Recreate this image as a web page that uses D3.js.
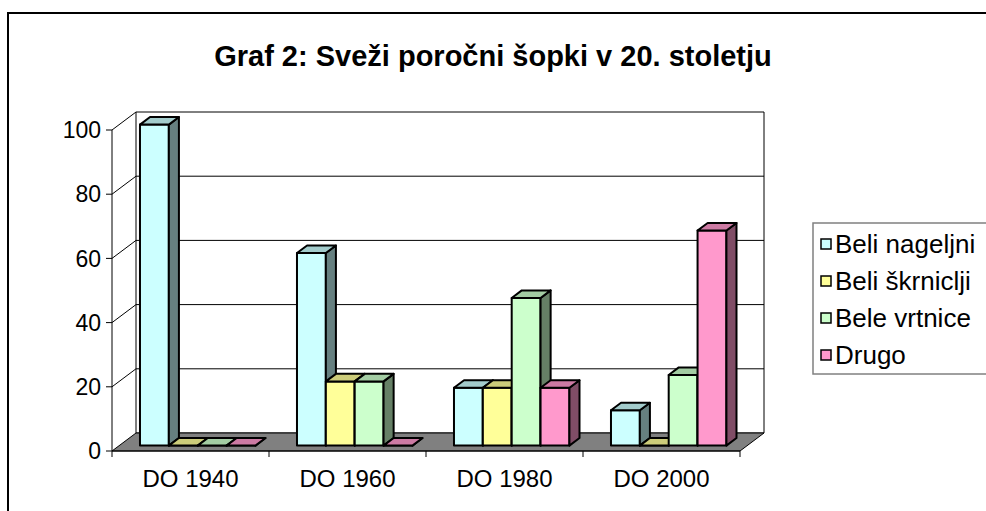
<!DOCTYPE html>
<html>
<head>
<meta charset="utf-8">
<script src="https://cdn.jsdelivr.net/npm/d3@7"></script>
<style>
  html, body { margin: 0; padding: 0; background: #fff; }
  svg { display: block; font-family: Arial, "Liberation Sans", sans-serif; }
</style>
</head>
<body>
<svg id="chart" width="986" height="511"></svg>
<script>
// podatki
const categories = ['DO 1940', 'DO 1960', 'DO 1980', 'DO 2000'];
const series = ['Beli nageljni', 'Beli škrniclji', 'Bele vrtnice', 'Drugo'];
const colors = ['#CCFFFF', '#FFFF99', '#CCFFCC', '#FF99CC'];
const values = [
    [100, 60, 18, 11],  // Beli nageljni
    [0, 20, 18, 0],     // Beli škrniclji
    [0, 20, 46, 22],    // Bele vrtnice
    [0, 0, 18, 67]      // Drugo
];
const yTicks = [0, 20, 40, 60, 80, 100];
const title = 'Graf 2: Sveži poročni šopki v 20. stoletju';

const svg = d3.select('#chart');

// okvir
svg.append('rect')
    .attr('x', 8).attr('y', 13)
    .attr('width', 1000).attr('height', 600)
    .attr('fill', '#fff')
    .attr('stroke', '#000')
    .attr('stroke-width', 2);

svg.append('text')
    .attr('x', 493).attr('y', 66)
    .attr('text-anchor', 'middle')
    .style('font-size', '29px')
    .style('font-weight', 'bold')
    .text(title);

// lestvice
const x = d3.scaleBand().domain(categories).range([112, 740]);
const xs = d3.scaleBand().domain(series).range([0, x.bandwidth()]).paddingInner(0).paddingOuter(0.72);
const y = d3.scaleLinear().domain([0, 100]).range([451, 130]);

// globina 3D
const DX = 24, DY = -18;
const p = (px, py, z) => [px + DX * z, py + DY * z];
const poly = pts => 'M' + pts.map(q => q.join(',')).join('L') + 'Z';

const xMin = x.range()[0], xMax = x.range()[1];

// zadnja stena
svg.append('path')
    .attr('d', poly([p(xMin, y(0), 1), p(xMin, y(100), 1), p(xMax, y(100), 1), p(xMax, y(0), 1)]))
    .attr('fill', '#fff')
    .attr('stroke', '#000')
    .attr('stroke-width', 1);

// mreža
yTicks.filter(t => t > 0 && t < 100).forEach(t => {
    svg.append('path')
        .attr('d', 'M' + p(xMin, y(t), 0).join(',') + 'L' + p(xMin, y(t), 1).join(',') + 'L' + p(xMax, y(t), 1).join(','))
        .attr('fill', 'none')
        .attr('stroke', '#000')
        .attr('stroke-width', 1);
});
svg.append('path')
    .attr('d', 'M' + p(xMin, y(100), 0).join(',') + 'L' + p(xMin, y(100), 1).join(','))
    .attr('stroke', '#000').attr('fill', 'none');

// tla
svg.append('path')
    .attr('d', poly([p(xMin, y(0), 0), p(xMin, y(0), 1), p(xMax, y(0), 1), p(xMax, y(0), 0)]))
    .attr('fill', '#808080')
    .attr('stroke', '#000')
    .attr('stroke-width', 1);

// os y
svg.append('line')
    .attr('x1', xMin).attr('x2', xMin)
    .attr('y1', y(100)).attr('y2', y(0) + 6)
    .attr('stroke', '#000');

svg.selectAll('.ytick')
    .data(yTicks)
    .enter()
    .append('line')
    .attr('x1', xMin - 6).attr('x2', xMin)
    .attr('y1', d => y(d)).attr('y2', d => y(d))
    .attr('stroke', '#000');

svg.selectAll('.ylab')
    .data(yTicks)
    .enter()
    .append('text')
    .attr('x', xMin - 11)
    .attr('y', d => y(d))
    .attr('dy', '0.36em')
    .attr('text-anchor', 'end')
    .style('font-size', '23px')
    .text(d => d);

// os x
svg.append('line')
    .attr('x1', xMin).attr('x2', xMax)
    .attr('y1', y(0)).attr('y2', y(0))
    .attr('stroke', '#000');

svg.selectAll('.xtick')
    .data(categories.slice(1).map(c => x(c)).concat([xMax]))
    .enter()
    .append('line')
    .attr('x1', d => d).attr('x2', d => d)
    .attr('y1', y(0)).attr('y2', y(0) + 6)
    .attr('stroke', '#000');

svg.selectAll('.xlab')
    .data(categories)
    .enter()
    .append('text')
    .attr('x', d => x(d) + x.bandwidth() / 2)
    .attr('y', 487)
    .attr('text-anchor', 'middle')
    .style('font-size', '24px')
    .text(d => d);

// stolpci
const shade = (c, k) => {
    const col = d3.rgb(c);
    return d3.rgb(col.r * k, col.g * k, col.b * k).formatHex();
};
const Z0 = 0.3, Z1 = 0.72;

categories.forEach((cat, ci) => {
    series.forEach((s, si) => {
        const v = values[si][ci];
        const x0 = x(cat) + xs(s), x1 = x0 + xs.bandwidth();
        const yb = y(0), yt = y(v);
        const g = svg.append('g')
            .attr('stroke', '#000')
            .attr('stroke-width', 2)
            .attr('stroke-linejoin', 'round');
        // sprednja ploskev
        g.append('path')
            .attr('d', poly([p(x0, yb, Z0), p(x0, yt, Z0), p(x1, yt, Z0), p(x1, yb, Z0)]))
            .attr('fill', colors[si]);
        // stranska ploskev
        g.append('path')
            .attr('d', poly([p(x1, yb, Z0), p(x1, yt, Z0), p(x1, yt, Z1), p(x1, yb, Z1)]))
            .attr('fill', shade(colors[si], 0.5));
        // zgornja ploskev
        g.append('path')
            .attr('d', poly([p(x0, yt, Z0), p(x0, yt, Z1), p(x1, yt, Z1), p(x1, yt, Z0)]))
            .attr('fill', shade(colors[si], 0.8));
    });
});

// legenda
const legend = svg.append('g');
legend.append('rect')
    .attr('x', 813).attr('y', 223)
    .attr('width', 200).attr('height', 151)
    .attr('fill', '#fff')
    .attr('stroke', '#808080')
    .attr('stroke-width', 1.5);

const items = legend.selectAll('.item')
    .data(series)
    .enter()
    .append('g')
    .attr('transform', (d, i) => `translate(821,${244 + i * 37})`);

items.append('rect')
    .attr('x', 0).attr('y', -5)
    .attr('width', 10).attr('height', 10)
    .attr('fill', (d, i) => colors[i])
    .attr('stroke', '#000')
    .attr('stroke-width', 1.5);

items.append('text')
    .attr('x', 14)
    .attr('dy', '0.36em')
    .style('font-size', '26px')
    .text(d => d);
</script>
</body>
</html>
